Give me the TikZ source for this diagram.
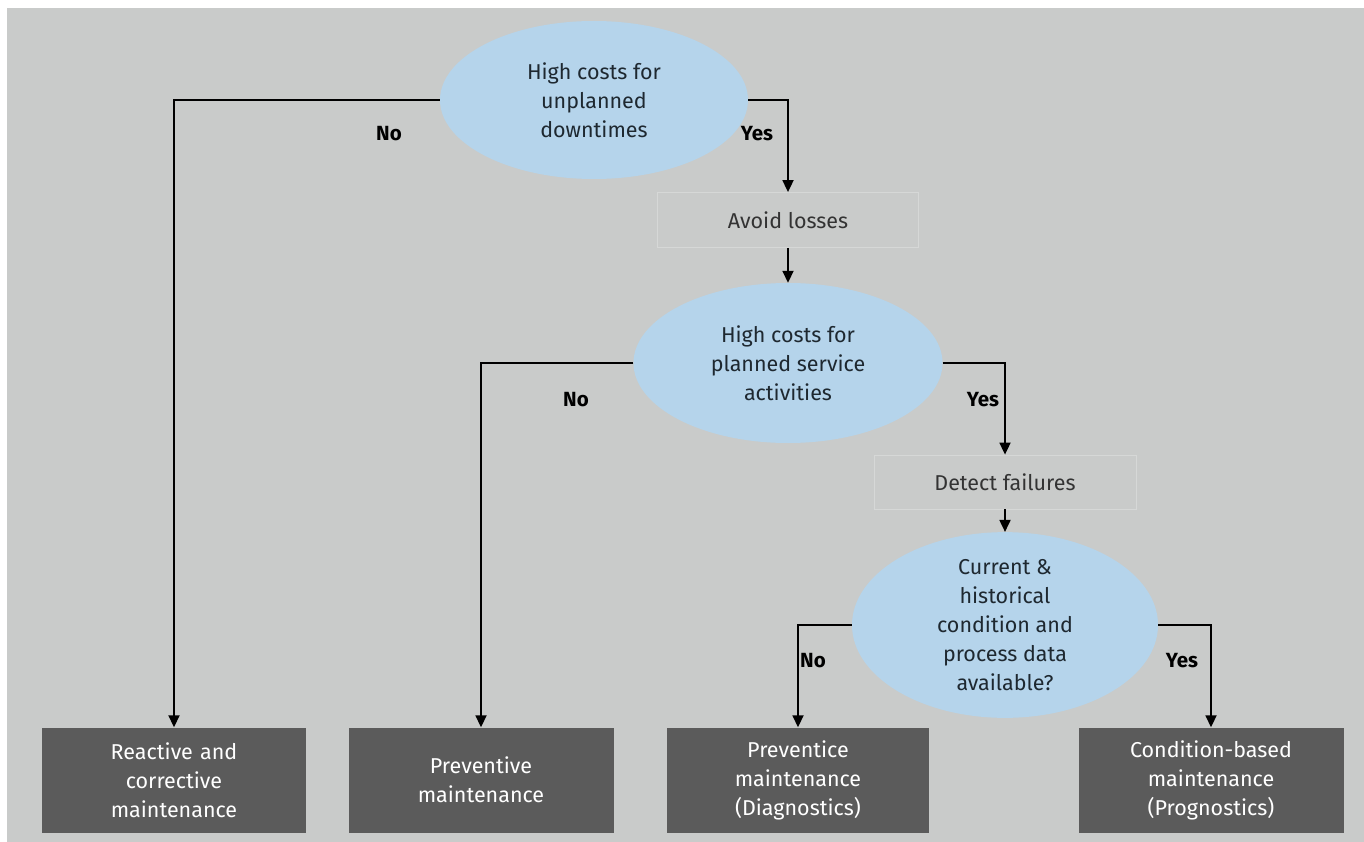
\documentclass[tikz,border=0pt]{standalone}
\usepackage{fontspec}
\setmainfont{Fira Sans}
\usetikzlibrary{shapes.geometric,arrows.meta}
\definecolor{panel}{HTML}{C9CBCA}
\definecolor{question}{HTML}{B5D4EB}
\definecolor{outcome}{HTML}{5B5B5B}
\definecolor{stepline}{HTML}{D6D8D7}
\definecolor{ink}{HTML}{1E2830}
\begin{document}
\begin{tikzpicture}[x=1pt,y=-1pt,
  txt/.style={font=\fontsize{21.5}{29}\selectfont, align=center},
  decision/.style={ellipse, fill=question, draw=none, txt, text=ink, inner sep=0pt},
  stepbox/.style={rectangle, fill=panel, draw=stepline, line width=0.8pt, txt, text=black!80, inner sep=0pt},
  result/.style={rectangle, fill=outcome, draw=none, txt, text=white, inner sep=0pt,
                 minimum height=105, text width=250},
  flow/.style={draw=black, line width=1.8pt, -{Triangle[length=12pt,width=11pt]}},
  answer/.style={font=\fontsize{20.5}{24}\selectfont\bfseries}
]
\useasboundingbox (0,0) rectangle (1364,842);
\fill[white] (0,0) rectangle (1364,842);
\fill[panel] (7,8) rectangle (1364,842);

% decisions and intermediate steps
\node[decision, minimum width=308, minimum height=158] (q1) at (594,100)
  {High costs for\\unplanned\\downtimes};
\node[stepbox, minimum width=261, minimum height=55] (avoid) at (788,220) {Avoid losses};
\node[decision, minimum width=309, minimum height=160] (q2) at (788,363)
  {High costs for\\planned service\\activities};
\node[stepbox, minimum width=262, minimum height=54] (detect) at (1005,482) {Detect failures};
\node[decision, minimum width=306, minimum height=160] (q3) at (1005,625)
  {Current \&\\historical\\condition and\\process data\\available?};

% maintenance strategies
\node[result, minimum width=264] (r1) at (174,780) {Reactive and\\corrective\\maintenance};
\node[result, minimum width=265] (r2) at (481,780) {Preventive\\maintenance};
\node[result, minimum width=262] (r3) at (798,780) {Preventice\\maintenance\\(Diagnostics)};
\node[result, minimum width=265] (r4) at (1211,780) {Condition-based\\maintenance\\(Prognostics)};

% connectors
\draw[flow] (q1.west) -| (r1.north);
\draw[flow] (q1.east) -| (avoid.north);
\draw[flow] (avoid.south) -- (q2.north);
\draw[flow] (q2.west) -| (r2.north);
\draw[flow] (q2.east) -| (detect.north);
\draw[flow] (detect.south) -- (q3.north);
\draw[flow] (q3.west) -| (r3.north);
\draw[flow] (q3.east) -| (r4.north);

% answers
\node[answer] (n1) at (389,134) {No};
\node[answer] (y1) at (757,134) {Yes};
\node[answer] (n2) at (576,400) {No};
\node[answer] (y2) at (983,400) {Yes};
\node[answer] (n3) at (813,661) {No};
\node[answer] (y3) at (1182,661) {Yes};
\end{tikzpicture}
\end{document}
